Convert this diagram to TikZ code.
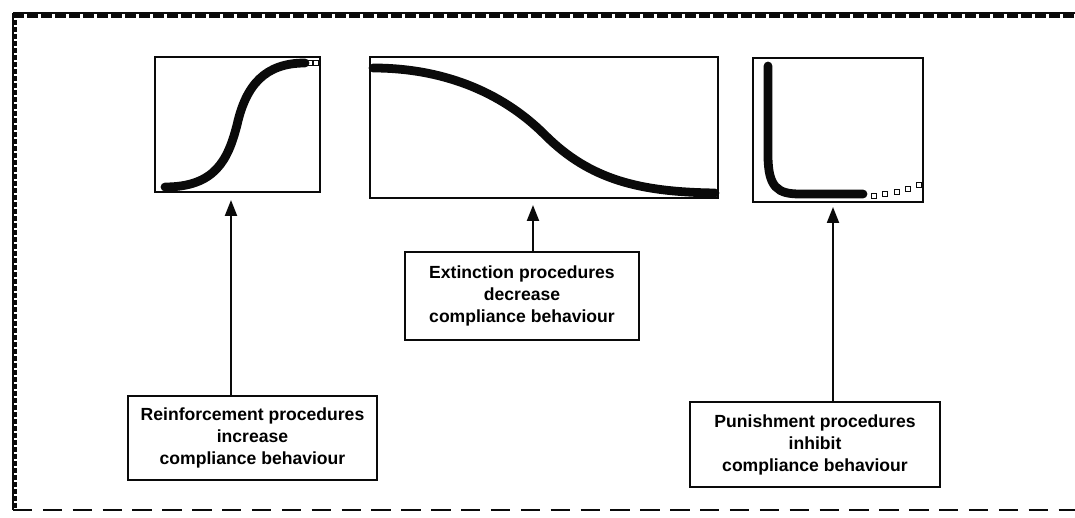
\documentclass[tikz,border=0pt]{standalone}
\usepackage{fontspec}
\setmainfont{Liberation Sans}
\usetikzlibrary{arrows.meta,positioning}
\definecolor{InkBlack}{RGB}{10,10,10}
\newcommand{\opensq}[2]{%
  \draw[InkBlack,line width=0.9pt] (#1-2.5,#2-2.5) rectangle ++(5,5);}
\tikzset{
  panel/.style={draw=InkBlack,line width=1.1pt,inner sep=0pt},
  labelbox/.style={draw=InkBlack,line width=1.3pt,align=center,inner sep=0pt,
    font=\bfseries\fontsize{10}{12.5}\selectfont},
  curve/.style={InkBlack,line width=5pt,line cap=round},
  uparrow/.style={-{Triangle[length=3.2mm,width=2.4mm]},line width=1.2pt,InkBlack}
}

\begin{document}
\begin{tikzpicture}[x=0.2mm,y=-0.2mm]
  \useasboundingbox (0,0) rectangle (1075,518);
  % frame
  \draw[InkBlack,line width=0.8pt] (13,13)--(1075,13);
  \draw[InkBlack,line width=3pt,dash pattern=on 2.1mm off 0.7mm] (13,15.5)--(1075,15.5);
  \draw[InkBlack,line width=0.6pt] (13,13)--(13,510);
  \draw[InkBlack,line width=2.5pt,dash pattern=on 1mm off 0.4mm] (15,13)--(15,510);
  \draw[InkBlack,line width=1.1pt,dash pattern=on 11pt off 6pt] (13,510)--(1075,510);

  % graphs
  \node[panel,minimum width=3.3cm,minimum height=2.7cm] (reinf) at (237.5,124.5) {};
  \node[panel,minimum width=6.96cm,minimum height=2.82cm] (extinct) at (544,127.5) {};
  \node[panel,minimum width=3.4cm,minimum height=2.88cm] (punish) at (838,130) {};

  \draw[curve] (165,187) .. controls (215,187) and (228,160) .. (237,125)
    .. controls (246,85) and (265,63) .. (305,63);
  \opensq{310}{63}
  \opensq{316}{63}
  \draw[curve] (373,68) .. controls (440,68) and (500,90) .. (545,135)
    .. controls (590,180) and (640,192) .. (715,193);
  \draw[curve] (768,66) -- (768,155) .. controls (768,188) and (778,194) .. (800,194) -- (863,194);
  \opensq{874}{196}
  \opensq{885}{194}
  \opensq{897}{192}
  \opensq{908}{189}
  \opensq{919}{185}

  % labels
  \node[labelbox,minimum width=4.98cm,minimum height=1.68cm] (lab1) at (252.5,438)
    {Reinforcement procedures\\increase\\compliance behaviour};
  \node[labelbox,minimum width=4.68cm,minimum height=1.76cm] (lab2) at (522,296)
    {Extinction procedures\\decrease\\compliance behaviour};
  \node[labelbox,minimum width=5cm,minimum height=1.7cm] (lab3) at (815,444.5)
    {Punishment procedures\\inhibit\\compliance behaviour};

  \coordinate (tip1) at (231,200);
  \coordinate (tip2) at (533,205);
  \coordinate (tip3) at (833,207);
  \draw[uparrow] (lab1.north -| tip1) -- (tip1);
  \draw[uparrow] (lab2.north -| tip2) -- (tip2);
  \draw[uparrow] (lab3.north -| tip3) -- (tip3);
\end{tikzpicture}
\end{document}
